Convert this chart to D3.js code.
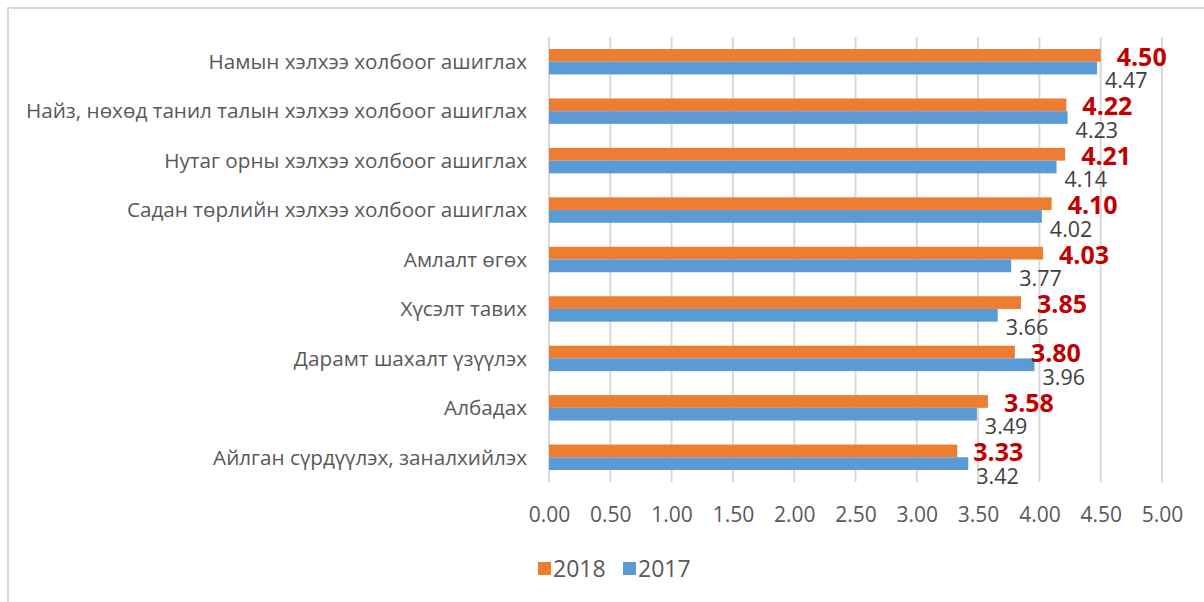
<!DOCTYPE html>
<html>
<head>
<meta charset="utf-8">
<script src="https://cdn.jsdelivr.net/npm/d3@7"></script>
<style>
  html, body { margin: 0; padding: 0; background: #fff; }
  svg { display: block; font-family: "Open Sans", sans-serif; }
</style>
</head>
<body>
<svg id="chart" width="1204" height="602"></svg>
<script>
const categories = [
  "Намын хэлхээ холбоог ашиглах",
  "Найз, нөхөд танил талын хэлхээ холбоог ашиглах",
  "Нутаг орны хэлхээ холбоог ашиглах",
  "Садан төрлийн хэлхээ холбоог ашиглах",
  "Амлалт өгөх",
  "Хүсэлт тавих",
  "Дарамт шахалт үзүүлэх",
  "Албадах",
  "Айлган сүрдүүлэх, заналхийлэх"
];
const values2018 = [4.50, 4.22, 4.21, 4.10, 4.03, 3.85, 3.80, 3.58, 3.33];
const values2017 = [4.47, 4.23, 4.14, 4.02, 3.77, 3.66, 3.96, 3.49, 3.42];
const seriesNames = ["2018", "2017"];
const tickValues = [0, 0.5, 1, 1.5, 2, 2.5, 3, 3.5, 4, 4.5, 5];

const colors = { "2018": "#ED7D31", "2017": "#5B9BD5" };

let margin = {top: 37, left: 549},
    width = 613,
    height = 445;

let svg = d3.select("#chart");

// outer frame (chart area border)
svg.append("rect")
  .attr("x", 8).attr("y", 8)
  .attr("width", 1210).attr("height", 620)
  .attr("fill", "none")
  .attr("stroke", "#d9d9d9")
  .attr("stroke-width", 2);

let g = svg.append("g")
  .attr("transform", "translate(" + margin.left + "," + margin.top + ")");

let x = d3.scaleLinear().domain([0, 5]).range([0, width]);

let y0 = d3.scaleBand()
  .domain(categories)
  .range([0, height])
  .paddingInner(0.486)
  .paddingOuter(0.243);

let y1 = d3.scaleBand()
  .domain(seriesNames)
  .range([0, y0.bandwidth()]);

// gridlines
g.append("g")
  .selectAll("line")
  .data(tickValues)
  .enter().append("line")
    .attr("x1", d => x(d)).attr("x2", d => x(d))
    .attr("y1", 0).attr("y2", height)
    .attr("stroke", "#d9d9d9")
    .attr("stroke-width", 2);

// x axis tick labels
let xAxis = d3.axisBottom(x)
  .tickValues(tickValues)
  .tickFormat(d3.format(".2f"))
  .tickSize(0)
  .tickPadding(25);

let xg = g.append("g")
  .attr("transform", "translate(0," + height + ")")
  .call(xAxis);
xg.select(".domain").remove();
xg.selectAll("text")
  .attr("fill", "#595959")
  .style("font-family", "Open Sans")
  .style("font-size", "21px");

// category labels
let yAxis = d3.axisLeft(y0).tickSize(0).tickPadding(22);
let yg = g.append("g").call(yAxis);
yg.select(".domain").remove();
yg.selectAll("text")
  .attr("fill", "#595959")
  .attr("dy", "0.35em")
  .style("font-family", "Open Sans")
  .style("font-size", "20.7px");

let rows = categories.map((c, i) => ({
  key: c,
  values: [
    {name: "2018", value: values2018[i]},
    {name: "2017", value: values2017[i]}
  ]
}));

let slice = g.selectAll(".slice")
  .data(rows)
  .enter().append("g")
    .attr("class", "slice")
    .attr("transform", d => "translate(0," + y0(d.key) + ")");

slice.selectAll("rect")
  .data(d => d.values)
  .enter().append("rect")
    .attr("x", 0)
    .attr("y", d => y1(d.name))
    .attr("width", d => x(d.value))
    .attr("height", y1.bandwidth())
    .attr("fill", d => colors[d.name]);

// 2018 labels: bold red
slice.append("text")
  .attr("x", d => x(d.values[0].value) + 16)
  .attr("y", y1("2018") + y1.bandwidth() / 2 + 1.5)
  .attr("dy", "0.357em")
  .attr("fill", "#C00000")
  .style("font-weight", "bold")
  .style("font-size", "25px")
  .text(d => d.values[0].value.toFixed(2));

// 2017 labels: gray, below bar end
slice.append("text")
  .attr("x", d => x(d.values[1].value) + 8)
  .attr("y", y1("2017") + y1.bandwidth() / 2 + 12.5)
  .attr("dy", "0.357em")
  .attr("fill", "#404040")
  .style("font-size", "21.5px")
  .text(d => d.values[1].value.toFixed(2));

// legend
let legend = svg.append("g")
  .attr("transform", "translate(538,562)");

let li = legend.selectAll(".legend")
  .data(seriesNames)
  .enter().append("g")
    .attr("class", "legend")
    .attr("transform", (d, i) => "translate(" + i * 85 + ",0)");

li.append("rect")
  .attr("width", 13).attr("height", 13)
  .attr("fill", d => colors[d]);

li.append("text")
  .attr("x", 15)
  .attr("y", 7)
  .attr("dy", "0.357em")
  .attr("fill", "#595959")
  .style("font-size", "23px")
  .text(d => d);
</script>
</body>
</html>
